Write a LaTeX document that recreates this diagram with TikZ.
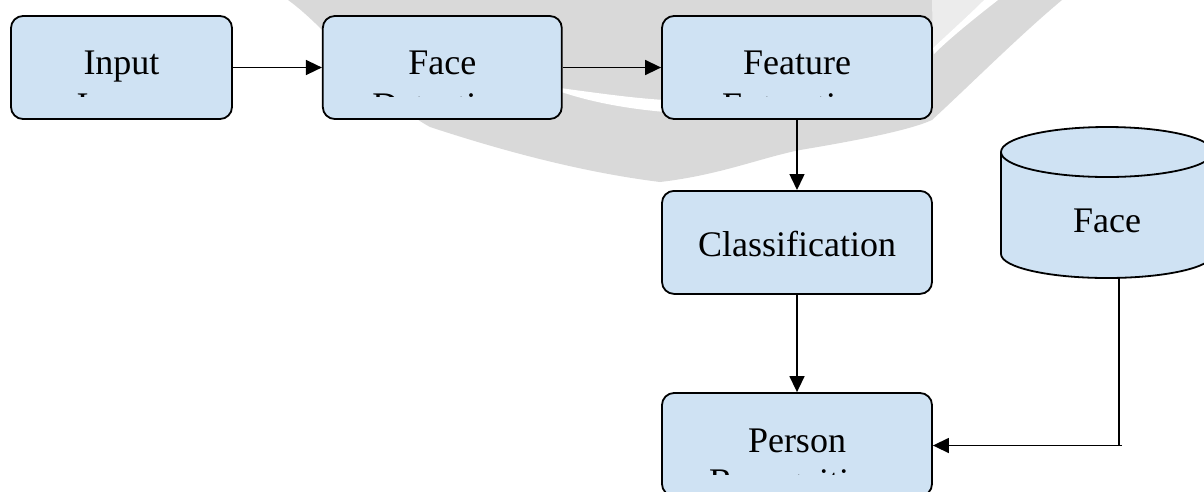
\documentclass[tikz,border=0pt]{standalone}
\usepackage{fontspec}
\setmainfont{Liberation Serif}
\usetikzlibrary{arrows.meta}
\definecolor{boxblue}{RGB}{207,226,243}
\definecolor{wmgray}{RGB}{217,217,217}
\definecolor{wmlight}{RGB}{236,236,236}
\tikzset{
  stepbox/.style={draw=black, line width=1.8pt, fill=boxblue, rounded corners=12pt, minimum height=103pt, inner sep=0pt},
  lbl/.style={anchor=base, inner sep=0pt, font=\fontsize{36}{42}\selectfont},
  arr/.style={line width=1.5pt, -{Triangle[length=16pt,width=15pt]}},
  conn/.style={line width=1.5pt},
  dbshape/.style={fill=boxblue, draw=black, line width=1.8pt},
}
\begin{document}
\begin{tikzpicture}[x=1pt,y=-1pt]
\useasboundingbox (0,0) rectangle (1204,491);
\clip (0,0) rectangle (1204,491);
% watermark
\fill[wmgray] (288,0) .. controls (330,30) and (380,100) .. (430,127)
  .. controls (500,150) and (580,172) .. (660,182)
  .. controls (720,175) and (760,158) .. (800,150)
  .. controls (860,140) and (910,130) .. (932,120)
  .. controls (970,85) and (1020,35) .. (1062,0) -- cycle;
\fill[white] (545,86) .. controls (590,92) and (630,98) .. (665,100)
  -- (665,112) .. controls (620,108) and (580,100) .. (545,86) -- cycle;
\fill[wmlight] (932,0) -- (984,0) .. controls (970,14) and (950,32) .. (933,48) -- cycle;
\fill[white] (984,0) -- (998,0) .. controls (975,18) and (950,38) .. (934,54)
  -- (933,48) .. controls (950,32) and (970,14) .. (984,0) -- cycle;
% boxes
\node[stepbox, minimum width=221pt] (inp) at (121.5,67.5) {};
\node[stepbox, minimum width=239pt] (face) at (442.3,67.5) {};
\node[stepbox, minimum width=270pt] (feat) at (797,67.5) {};
\node[stepbox, minimum width=270pt] (cls) at (797,242.4) {};
\node[stepbox, minimum width=270pt] (per) at (797,444.5) {};
% database cylinder
\path[dbshape] (1001,152) -- (1001,254)
  arc[start angle=180, end angle=360, x radius=106pt, y radius=24pt]
  -- (1213,152)
  arc[start angle=0, end angle=180, x radius=106pt, y radius=25pt] -- cycle;
\draw[line width=1.8pt] (1001,152) arc[start angle=180, end angle=360, x radius=106pt, y radius=25pt];
\node[inner sep=0pt, minimum width=212pt, minimum height=152pt] (db) at (1107,202) {};
% labels
\node[lbl] (inpA) at (121.5,74) {Input};
\node[lbl] (faceA) at (442.3,74) {Face};
\node[lbl] (featA) at (797,74) {Feature};
\node[lbl] (clsA) at (797,256) {Classification};
\node[lbl] (perA) at (797,452) {Person};
\node[lbl] (dbA) at (1107,232) {Face};
\begin{scope}
  \clip (0,0) rectangle (1204,96.5);
  \node[lbl] (inpB) at (121.5,117) {Image};
  \node[lbl] (faceB) at (442.3,117) {Detection};
  \node[lbl] (featB) at (797,117) {Extraction};
\end{scope}
\begin{scope}
  \clip (0,0) rectangle (1204,474.5);
  \node[lbl] (perB) at (797,493) {Recognition};
\end{scope}
% connectors
\draw[arr] (inp) -- (face);
\draw[arr] (face) -- (feat);
\draw[arr] (feat) -- (cls);
\draw[arr] (cls) -- (per);
\coordinate (corner) at (1119,445.5);
\coordinate (hstart) at (1122,445.5);
\draw[conn] (db.south -| corner) -- (corner);
\draw[arr] (hstart) -- (per.east |- hstart);
\end{tikzpicture}
\end{document}
